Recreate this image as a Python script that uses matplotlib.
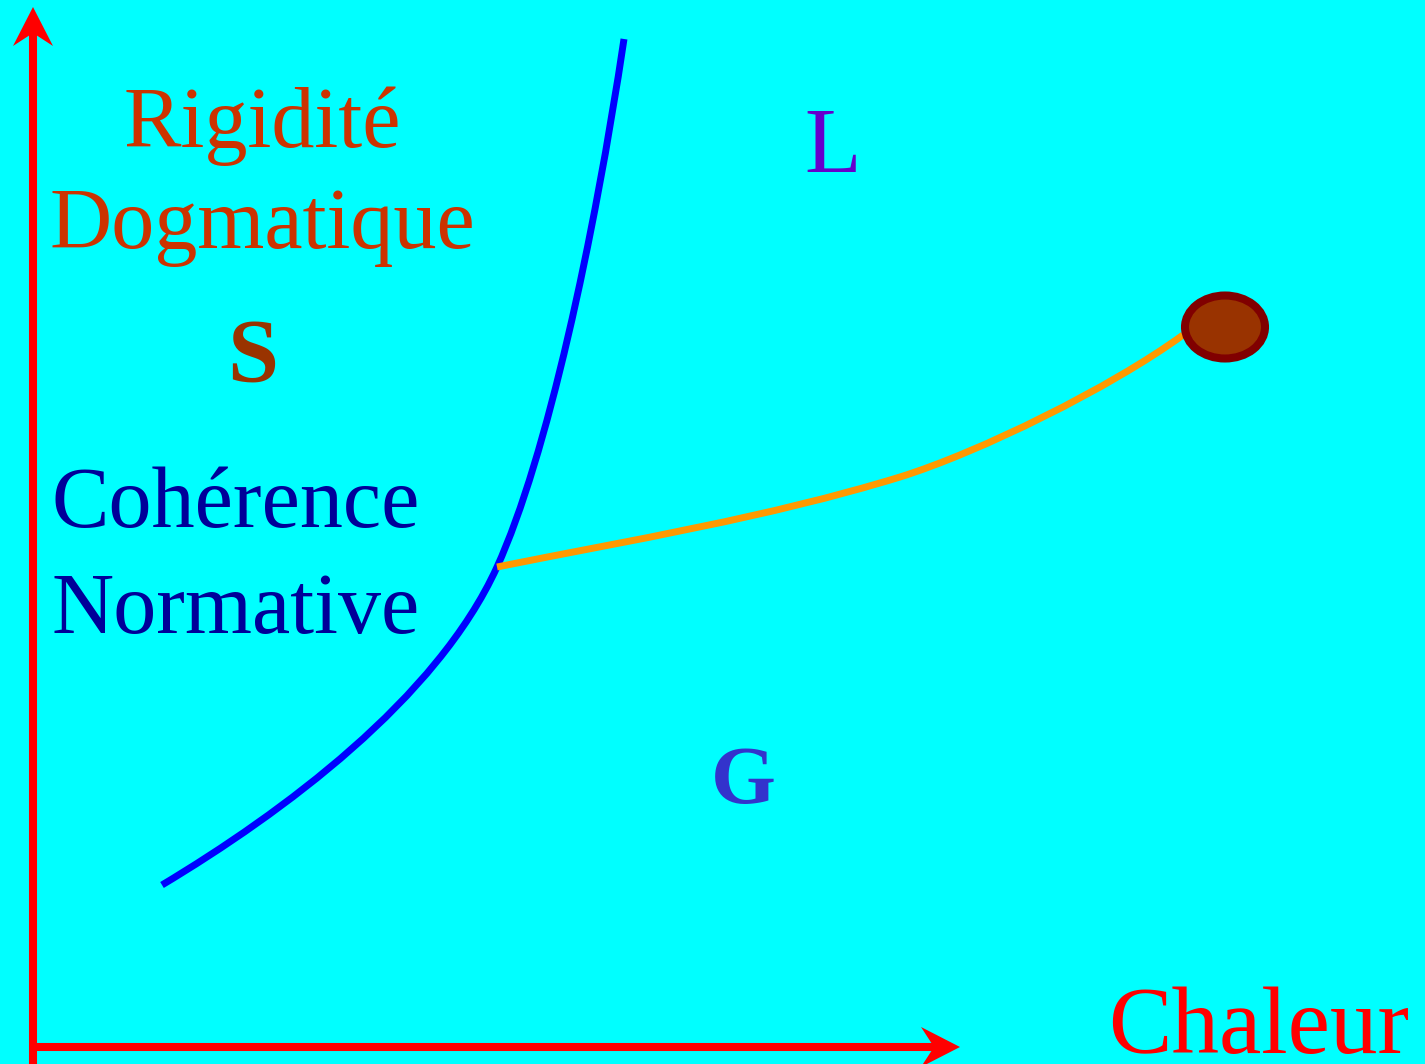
import matplotlib
matplotlib.use("Agg")
import matplotlib.pyplot as plt
from matplotlib.patches import Polygon, Ellipse, PathPatch
from matplotlib.path import Path

# ---- data (pixel-space coordinates of the diagram, y downwards) ----
# frontier curve: two cubic Bezier segments (anchor, ctrl, ctrl, anchor, ctrl, ctrl, anchor)
frontier_x = [162, 282, 437, 497, 547, 594, 624]
frontier_y = [885, 813, 699, 567, 457, 239, 39]

# trajectory: two cubic Bezier segments
path_x = [497, 631, 766, 900, 980, 1110, 1183]
path_y = [567, 540, 518, 477, 452, 388, 335]

point_xy = (1225, 327)

axis_origin = (33, 1047)
axis_x_end = 960
axis_y_end = 7

labels = ["Rigidité", "Dogmatique", "Cohérence", "Normative", "S", "L", "G", "Chaleur"]

# ---- figure ----
W, H = 1425, 1064
fig = plt.figure(figsize=(W / 100, H / 100), dpi=100)
fig.patch.set_facecolor("#00FFFF")
ax = fig.add_axes([0, 0, 1, 1])
ax.set_facecolor("#00FFFF")
ax.set_xlim(0, W)
ax.set_ylim(H, 0)
ax.axis("off")

red = "#FF0000"
axw = 5.8
head_len, head_half, notch = 39, 20, 13

ox, oy = axis_origin
# vertical axis
ax.plot([ox, ox], [H + 5, axis_y_end + notch + 5], color=red, lw=axw, solid_capstyle="butt")
ax.add_patch(Polygon([(ox, axis_y_end), (ox + head_half, axis_y_end + head_len),
                      (ox, axis_y_end + head_len - notch), (ox - head_half, axis_y_end + head_len)],
                     closed=True, color=red, lw=0))
# horizontal axis
ax.plot([ox - 4, axis_x_end - notch - 5], [oy, oy], color=red, lw=axw, solid_capstyle="butt")
ax.add_patch(Polygon([(axis_x_end, oy), (axis_x_end - head_len, oy - head_half),
                      (axis_x_end - head_len + notch, oy), (axis_x_end - head_len, oy + head_half)],
                     closed=True, color=red, lw=0))


def bezier_patch(xs, ys, color, lw):
    verts = list(zip(xs, ys))
    codes = [Path.MOVETO] + [Path.CURVE4] * (len(verts) - 1)
    p = PathPatch(Path(verts, codes), facecolor="none", edgecolor=color, lw=lw,
                  capstyle="butt", joinstyle="round")
    ax.add_patch(p)


# frontier curve
bezier_patch(frontier_x, frontier_y, "#0000FF", 5)
# trajectory
bezier_patch(path_x, path_y, "#FF9900", 5)
# point
ax.add_patch(Ellipse(point_xy, 80, 63, facecolor="#993300", edgecolor="#800000", lw=5.8))

serif = ["Liberation Serif", "DejaVu Serif"]
ax.text(262, 147, labels[0], color="#CC3300", fontsize=62, family=serif, ha="center", va="baseline")
ax.text(262, 248, labels[1], color="#CC3300", fontsize=62, family=serif, ha="center", va="baseline")
ax.text(52, 527, labels[2], color="#000099", fontsize=62, family=serif, ha="left", va="baseline")
ax.text(52, 633, labels[3], color="#000099", fontsize=62, family=serif, ha="left", va="baseline")
ax.text(253, 382, labels[4], color="#993300", fontsize=66, family=serif, weight="bold", ha="center", va="baseline")
ax.text(833, 172, labels[5], color="#6600CC", fontsize=67, family=serif, ha="center", va="baseline")
ax.text(743, 803, labels[6], color="#3333CC", fontsize=60, family=serif, weight="bold", ha="center", va="baseline")
ax.text(1259, 1053, labels[7], color=red, fontsize=68.5, family=serif, ha="center", va="baseline")

fig.savefig("out.png", dpi=100, facecolor=fig.get_facecolor())
